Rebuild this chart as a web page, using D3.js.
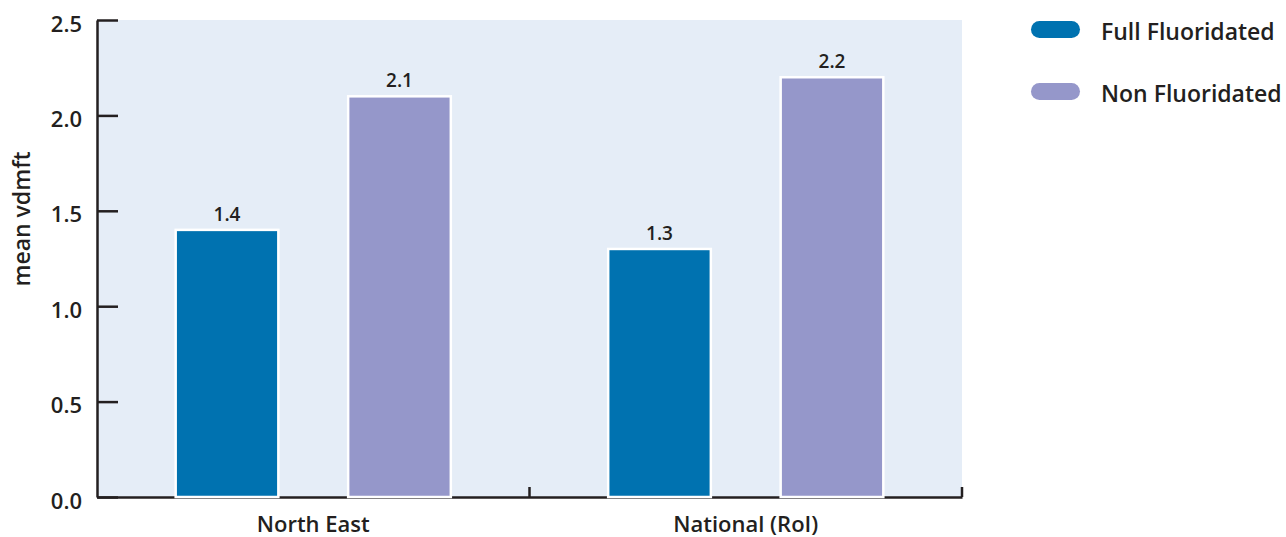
<!DOCTYPE html>
<html><head><meta charset="utf-8">
<script src="https://cdn.jsdelivr.net/npm/d3@7"></script>
<style>body{margin:0;background:#fff}svg{display:block}text{font-family:"Open Sans","Noto Sans",sans-serif;fill:#231f20;font-weight:600}</style>
</head><body><svg id="c" width="1286" height="537"></svg>
<script>
const categories = ["North East", "National (RoI)"];
const seriesNames = ["Full Fluoridated", "Non Fluoridated"];
const fullFluoridated = [1.4, 1.3];
const nonFluoridated = [2.1, 2.2];
const yTicks = [0, 0.5, 1.0, 1.5, 2.0, 2.5];
const colors = ["#0072b0", "#9597ca"];

const svg = d3.select("#c");
const L = 97, R = 962, T = 20, B = 497;
const x = d3.scaleBand().domain(categories).range([L, R]);
const xs = d3.scaleBand().domain(seriesNames).range([0, x.bandwidth()]).paddingInner(0.4048).paddingOuter(0.4562);
const y = d3.scaleLinear().domain([0, 2.5]).range([B, T]);
const series = [fullFluoridated, nonFluoridated];

svg.append("rect").attr("x", L).attr("y", T).attr("width", R - L).attr("height", B - T).attr("fill", "#e5edf7");

// y axis
const ya = svg.append("g").attr("transform", `translate(${L},0)`)
  .call(d3.axisRight(y).tickValues(yTicks).tickSize(21).tickFormat(d3.format(".1f")).tickSizeOuter(0));
ya.select(".domain").attr("stroke", "#231f20").attr("stroke-width", 2.5);
ya.selectAll(".tick line").attr("stroke", "#231f20").attr("stroke-width", 2.5);
ya.selectAll(".tick text").attr("x", -15).attr("text-anchor", "end").attr("font-size", 22).attr("dy", "0.5em");

// x axis
const xa = svg.append("g").attr("transform", `translate(0,${B})`)
  .call(d3.axisBottom(x).tickSize(0).tickSizeOuter(0));
xa.select(".domain").attr("stroke", "#231f20").attr("stroke-width", 2.5);
xa.selectAll(".tick text").attr("font-size", 22).attr("y", 35).attr("dy", "0");
// boundary ticks (inward)
const bounds = [x.range()[0] + x.bandwidth(), R];
svg.append("g").selectAll("line").data(bounds).join("line")
  .attr("x1", d => d).attr("x2", d => d).attr("y1", B).attr("y2", B - 10)
  .attr("stroke", "#231f20").attr("stroke-width", 2.5);

// bars
categories.forEach((c, i) => {
  seriesNames.forEach((s, j) => {
    const v = series[j][i];
    const bx = x(c) + xs(s);
    svg.append("rect").attr("x", bx).attr("y", y(v)).attr("width", xs.bandwidth()).attr("height", y(0) - y(v))
      .attr("fill", colors[j]).attr("stroke", "#fff").attr("stroke-width", 2.5);
    svg.append("text").attr("x", bx + xs.bandwidth() / 2).attr("y", y(v) - 9).attr("text-anchor", "middle")
      .attr("font-size", 19).text(d3.format(".1f")(v));
  });
});

// y title
svg.append("text").attr("transform", "translate(30,219) rotate(-90)").attr("text-anchor", "middle")
  .attr("font-size", 23).text("mean vdmft");

// legend
const lg = svg.append("g").selectAll("g").data(seriesNames).join("g")
  .attr("transform", (d, i) => `translate(1031,${21 + i * 62})`);
lg.append("rect").attr("width", 49).attr("height", 17).attr("rx", 8.5).attr("fill", (d, i) => colors[i]);
lg.append("text").attr("x", 70).attr("y", 19).attr("font-size", 23).text(d => d);
</script></body></html>
